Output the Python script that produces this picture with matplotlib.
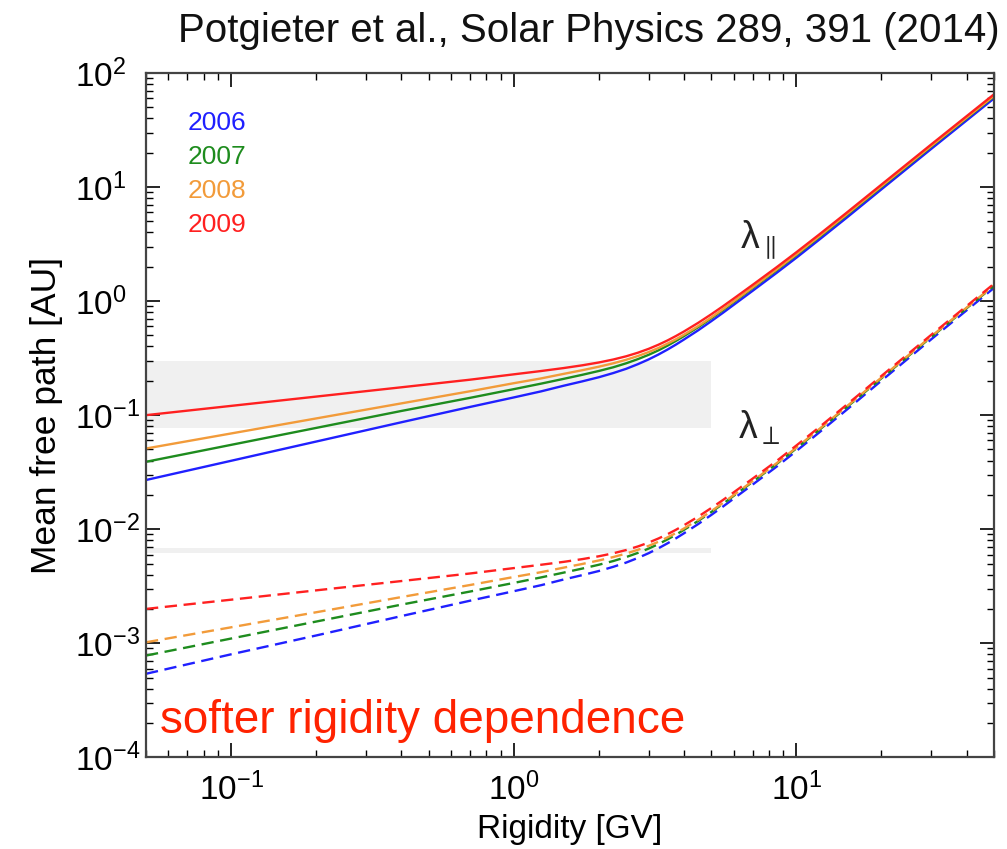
import matplotlib
matplotlib.use("Agg")
import matplotlib.pyplot as plt

plt.rcParams['font.family'] = ['Liberation Sans', 'DejaVu Sans']
plt.rcParams['mathtext.fontset'] = 'custom'
plt.rcParams['mathtext.rm'] = 'Liberation Sans'
plt.rcParams['mathtext.it'] = 'Liberation Sans'

rigidity = [0.05, 0.1, 0.2, 0.4, 0.7, 1.0, 1.25, 1.5, 1.75, 2.0, 2.25, 2.5, 2.75, 3.0, 3.25,
            3.5, 3.75, 4.0, 4.5, 5.0, 5.5, 6.0, 7.0, 8.5, 10, 12, 15, 20, 30, 50]

# parallel mean free path [AU]
par_2006 = [0.027, 0.0398, 0.0587, 0.0866, 0.118, 0.143, 0.1617, 0.181, 0.198, 0.215, 0.234, 0.255, 0.28, 0.308, 0.34,
            0.376, 0.416, 0.46, 0.556, 0.667, 0.79, 0.927, 1.23, 1.763, 2.40, 3.43, 5.34, 9.55, 21.6, 59.8]
par_2007 = [0.039, 0.0549, 0.0773, 0.1088, 0.1418, 0.169, 0.189, 0.208, 0.226, 0.244, 0.263, 0.285, 0.31, 0.338, 0.37,
            0.407, 0.448, 0.493, 0.592, 0.707, 0.835, 0.98, 1.30, 1.86, 2.53, 3.61, 5.62, 10.02, 22.6, 62.3]
par_2008 = [0.051, 0.0691, 0.0936, 0.1268, 0.162, 0.1906, 0.210, 0.230, 0.248, 0.266, 0.285, 0.306, 0.33, 0.357, 0.388,
            0.424, 0.463, 0.507, 0.605, 0.72, 0.85, 0.996, 1.32, 1.89, 2.57, 3.67, 5.71, 10.17, 22.9, 63.0]
par_2009 = [0.100, 0.1206, 0.1455, 0.1755, 0.2046, 0.228, 0.2438, 0.2587, 0.2737, 0.2897, 0.3076, 0.3283, 0.3528, 0.3813, 0.4145,
            0.452, 0.4945, 0.5412, 0.6461, 0.7668, 0.9019, 1.052, 1.387, 1.976, 2.681, 3.81, 5.91, 10.51, 23.64, 65.0]

# perpendicular mean free path [AU]
perp_2006 = [0.00054, 0.0008, 0.00117, 0.00173, 0.00236, 0.00286, 0.00323, 0.00362, 0.00396, 0.0043, 0.00468, 0.0051, 0.0056, 0.00616, 0.0068,
             0.00752, 0.00832, 0.0092, 0.01112, 0.01334, 0.0158, 0.01854, 0.0246, 0.03526, 0.0485, 0.07, 0.1105, 0.2006, 0.4622, 1.304]
perp_2007 = [0.00078, 0.0011, 0.00155, 0.00218, 0.00284, 0.00338, 0.00378, 0.00416, 0.00452, 0.00488, 0.00526, 0.0057, 0.0062, 0.00676, 0.0074,
             0.00814, 0.00896, 0.00986, 0.01184, 0.01414, 0.0167, 0.0196, 0.026, 0.0372, 0.0511, 0.0736, 0.1163, 0.2104, 0.4836, 1.358]
perp_2008 = [0.00102, 0.00138, 0.00187, 0.00254, 0.00324, 0.00381, 0.0042, 0.0046, 0.00496, 0.00532, 0.0057, 0.00612, 0.0066, 0.00714, 0.00776,
             0.00848, 0.00926, 0.01014, 0.0121, 0.0144, 0.017, 0.01992, 0.0264, 0.0378, 0.0519, 0.0749, 0.1182, 0.2136, 0.49, 1.373]
perp_2009 = [0.0020, 0.00241, 0.00291, 0.00351, 0.00409, 0.00456, 0.00488, 0.00517, 0.00547, 0.00579, 0.00615, 0.00657, 0.00706, 0.00763, 0.00829,
             0.00904, 0.00989, 0.01082, 0.01292, 0.01534, 0.01804, 0.02104, 0.02774, 0.03952, 0.0542, 0.0777, 0.1223, 0.2207, 0.506, 1.417]

years = ['2006', '2007', '2008', '2009']
colors = ['#2020ff', '#1e8c1e', '#f29b3a', '#ff2020']

# shaded bands: (R_min, R_max, lambda_low, lambda_high)
band_par = (0.05, 5.0, 0.077, 0.30)
band_perp = (0.05, 5.0, 0.0062, 0.0069)

fig = plt.figure(figsize=(10.07, 8.49), dpi=100)
ax = fig.add_axes([0.145, 0.108, 0.842, 0.806])

ax.fill_between([band_par[0], band_par[1]], band_par[2], band_par[3], color='#f0f0f0', lw=0, zorder=0)
ax.fill_between([band_perp[0], band_perp[1]], band_perp[2], band_perp[3], color='#f0f0f0', lw=0, zorder=0)

pars = [par_2006, par_2007, par_2008, par_2009]
perps = [perp_2006, perp_2007, perp_2008, perp_2009]
for c, p, q in zip(colors, pars, perps):
    ax.plot(rigidity, p, color=c, lw=1.7)
    ax.plot(rigidity, q, color=c, lw=1.7, dashes=(5.2, 2.8))

ax.set_xscale('log')
ax.set_yscale('log')
ax.set_xlim(0.05, 50)
ax.set_ylim(1e-4, 1e2)

ax.tick_params(which='both', direction='in', top=True, right=True, labelsize=24)
ax.tick_params(axis='x', pad=11)
ax.tick_params(axis='y', pad=51)
ax.tick_params(which='major', length=10, width=1.2)
ax.tick_params(which='minor', length=5, width=1.0)
for lab in ax.get_yticklabels():
    lab.set_horizontalalignment('left')
for s in ax.spines.values():
    s.set_linewidth(1.6)
    s.set_color('#444444')

ax.set_xlabel('Rigidity [GV]', fontsize=24)
ax.xaxis.set_label_coords(0.5, -0.083)
ax.set_ylabel('Mean free path [AU]', fontsize=25.5)
ax.yaxis.set_label_coords(-0.098, 0.5)

# legend as coloured year labels
for i, (yr, c) in enumerate(zip(years, colors)):
    ax.text(0.049, 0.927 - i * 0.0497, yr, color=c, fontsize=19, transform=ax.transAxes,
            va='center', ha='left')

ax.text(0.700, 0.745, r'$\mathrm{\lambda}_{\parallel}$', fontsize=27, transform=ax.transAxes,
        color='#222222', va='baseline')
ax.text(0.698, 0.466, r'$\mathrm{\lambda}_{\perp}$', fontsize=27, transform=ax.transAxes,
        color='#222222', va='baseline')

ax.text(0.0165, 0.035, 'softer rigidity dependence', color='#ff2200', fontsize=33,
        transform=ax.transAxes, ha='left', va='baseline')

fig.text(0.993, 0.963, 'Potgieter et al., Solar Physics 289, 391 (2014)', fontsize=29,
         ha='right', va='center', color='#111111')

fig.savefig('out.png', dpi=100)
